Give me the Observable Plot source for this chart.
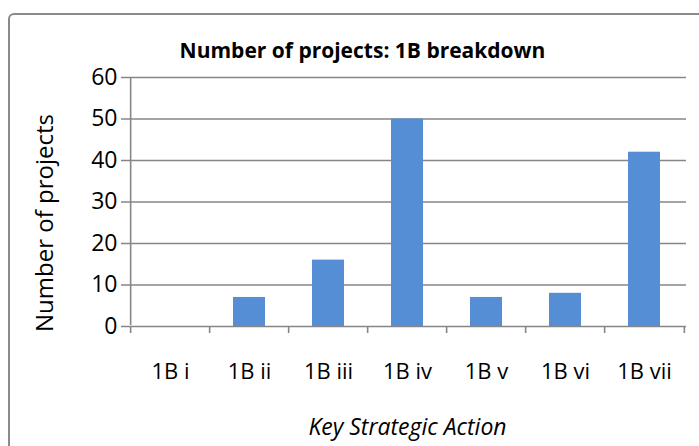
<!DOCTYPE html>
<html><head><meta charset="utf-8">
<script src="https://cdn.jsdelivr.net/npm/d3@7"></script>
<script src="https://cdn.jsdelivr.net/npm/@observablehq/plot@0.6"></script>
<style>
body{margin:0;background:#fff;}
#wrap{position:relative;width:699px;height:446px;overflow:hidden;}
#border{position:absolute;left:8px;top:13px;width:720px;height:470px;border:2px solid #8a8a8a;border-radius:6px;box-sizing:border-box;}
#chart{position:absolute;left:0;top:0;}
</style>
</head><body>
<div id="wrap"><div id="border"></div><div id="chart"></div></div>
<script>
const categories = ["1B i","1B ii","1B iii","1B iv","1B v","1B vi","1B vii"];
const values = [0, 7, 16, 50, 7, 8, 42];
const yTicks = [0,10,20,30,40,50,60];
const title = "Number of projects: 1B breakdown";
const xLabel = "Key Strategic Action";
const yLabel = "Number of projects";

const data = categories.map((c,i)=>({cat:c, value:values[i]}));
const W = 699, H = 446, mL = 128, mR = 13, mT = 77, mB = 120;
const step = (W - mL - mR) / categories.length;
const gray = "#868686";
const font = "'Open Sans', Lato, sans-serif";

const plot = Plot.plot({
  width: W, height: H,
  marginLeft: mL, marginRight: mR, marginTop: mT, marginBottom: mB,
  style: {fontFamily: font, background: "transparent", color: "#000"},
  x: {domain: categories, paddingInner: 0.6, paddingOuter: 0.3, label: null},
  y: {domain: [0,60], label: null},
  marks: [
    Plot.ruleY(yTicks, {stroke: gray, strokeWidth: 1.6, insetLeft: -7}),
    Plot.barY(data, {x: "cat", y: "value", fill: "#558ED5"}),
    Plot.ruleX([categories[0]], {x: d=>d, stroke: gray, strokeWidth: 1.6, dx: -step/2, y1: 0, y2: 60, insetTop: -1}),
    Plot.ruleX(categories, {x: d=>d, dx: -step/2, y1: 0, y2: 0, insetBottom: -7, stroke: gray, strokeWidth: 1.6}),
    Plot.ruleX([categories[categories.length-1]], {x: d=>d, dx: step/2, y1: 0, y2: 0, insetBottom: -7, stroke: gray, strokeWidth: 1.6}),
    Plot.axisY({ticks: yTicks, tickSize: 0, tickPadding: 11, fontSize: 23, label: null, tickFormat: d=>String(d)}),
    Plot.axisX({tickSize: 0, tickPadding: 37, fontSize: 22, label: null}),
    Plot.text([title], {frameAnchor: "top", dx: -45, dy: -34, fontSize: 21, fontWeight: "bold", text: d=>d}),
    Plot.text([xLabel], {frameAnchor: "bottom", dy: 108, fontSize: 23, fontStyle: "italic", text: d=>d}),
    Plot.text([yLabel], {frameAnchor: "left", dx: -83, dy: 21, rotate: -90, textAnchor: "middle", fontSize: 24, text: d=>d})
  ]
});
document.getElementById("chart").appendChild(plot);
</script>
</body></html>
